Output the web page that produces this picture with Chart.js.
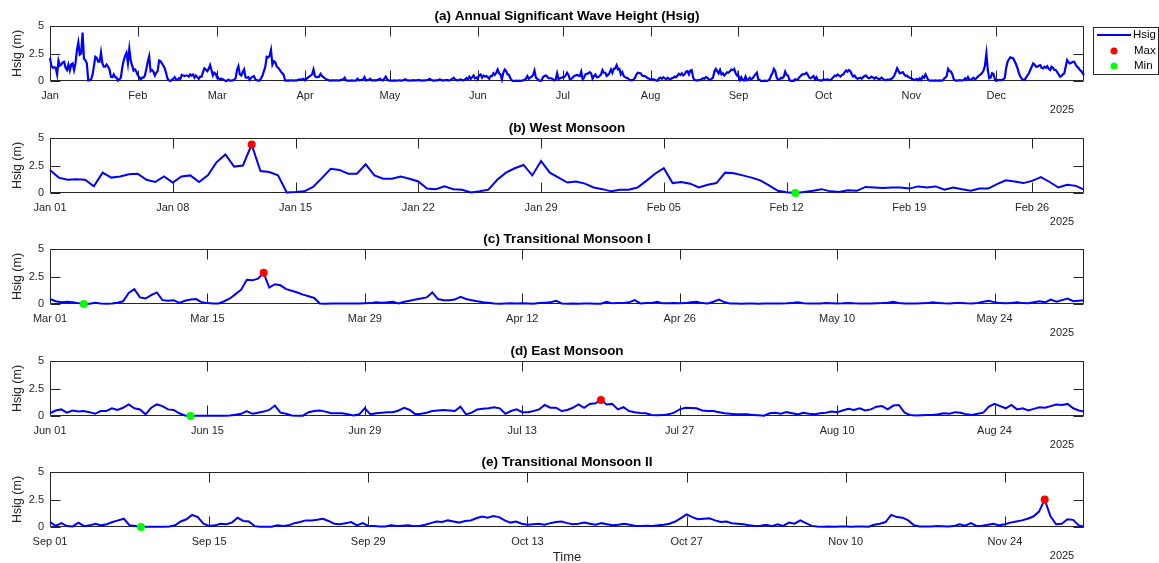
<!DOCTYPE html>
<html>
<head>
<meta charset="utf-8">
<title>Significant Wave Height 2025</title>
<script src="https://cdn.jsdelivr.net/npm/chart.js@4.4.1/dist/chart.umd.min.js"></script>
<style>
  html, body { margin: 0; padding: 0; background: #ffffff; overflow: hidden; }
  #fig { position: relative; width: 1159px; height: 563px; }
  #fig canvas { position: absolute; left: 0; }
</style>
</head>
<body>
<div id="fig"></div>
<script>
// Hsig (m), one reading every 12 h from 00:00 of the first day of each season;
// the final reading of each list is 23:00 of the season's last day.
const westMonsoon = [
  2.1, 1.4, 1.2, 1.25, 1.2, 0.6, 1.85, 1.4, 1.5, 1.7,
  1.75, 1.2, 1.0, 1.5, 0.95, 1.5, 1.6, 1.0, 1.6, 2.8,
  3.5, 2.4, 2.5, 4.4, 2.0, 1.9, 1.6, 0.05, 0.08, 0.15,
  0.55, 1.35, 2.2, 2.1, 1.75, 1.75, 2.6, 1.6, 1.3, 1.3,
  1.5, 1.3, 1.05, 0.4, 0.35, 0.6, 0.35, 0.3, 0.05, 0.15,
  0.3, 1.2, 1.85, 2.25, 2.55, 1.6, 2.9, 1.85, 1.4, 0.95,
  1.05, 0.85, 0.5, 0.35, 0.15, 0.3, 0.3, 0.5, 1.1, 1.75,
  2.25, 0.9, 1.0, 0.85, 0.5, 0.75, 0.9, 1.85, 1.8, 1.6,
  1.4, 1.15, 0.7, 0.2, 0.06, 0.0, 0.1, 0.2, 0.35, 0.15,
  0.1, 0.25, 0.2, 0.55, 0.5, 0.45, 0.5, 0.5, 0.4, 0.6,
  0.5, 0.6, 0.3, 0.5, 0.35, 0.2, 0.4, 0.4, 0.8, 1.15,
  1.05, 0.9, 1.1, 1.45, 1.0, 0.5, 0.75, 0.65, 0.3
];
const transitionalMonsoonI = [
  0.45, 0.25, 0.15, 0.2, 0.15, 0.08, 0.0, 0.03, 0.12, 0.04,
  0.03, 0.05, 0.12, 0.25, 1.0, 1.35, 0.6, 0.5, 0.8, 1.05,
  0.35, 0.3, 0.35, 0.1, 0.3, 0.4, 0.45, 0.15, 0.08, 0.04,
  0.05, 0.25, 0.5, 0.9, 1.3, 2.2, 2.15, 2.3, 2.83, 1.5,
  1.8, 1.7, 1.35, 1.2, 1.05, 0.85, 0.7, 0.55, 0.05, 0.03,
  0.05, 0.04, 0.05, 0.05, 0.04, 0.05, 0.06, 0.08, 0.15, 0.12,
  0.15, 0.2, 0.06, 0.2, 0.3, 0.4, 0.5, 0.6, 1.05, 0.45,
  0.35, 0.35, 0.4, 0.65, 0.45, 0.35, 0.25, 0.15, 0.12, 0.05,
  0.03, 0.05, 0.06, 0.05, 0.06, 0.05, 0.03, 0.08, 0.12, 0.15,
  0.3, 0.05, 0.03, 0.04, 0.03, 0.05, 0.04, 0.03, 0.03, 0.2,
  0.06, 0.08, 0.1, 0.15, 0.35, 0.05, 0.08, 0.1, 0.2, 0.06,
  0.06, 0.08, 0.06, 0.08, 0.15, 0.2, 0.08, 0.05, 0.2, 0.4,
  0.15, 0.05, 0.04, 0.03, 0.04, 0.05, 0.03, 0.04, 0.05, 0.05,
  0.04, 0.06, 0.1, 0.15, 0.06, 0.05, 0.04, 0.05, 0.08, 0.06,
  0.05, 0.06, 0.1, 0.06, 0.05, 0.04, 0.05, 0.06, 0.08, 0.12,
  0.2, 0.1, 0.05, 0.04, 0.05, 0.06, 0.08, 0.15, 0.1, 0.06,
  0.05, 0.08, 0.1, 0.06, 0.05, 0.1, 0.2, 0.3, 0.15, 0.08,
  0.06, 0.1, 0.15, 0.08, 0.06, 0.15, 0.25, 0.15, 0.4, 0.2,
  0.35, 0.5, 0.25, 0.3, 0.35
];
const eastMonsoon = [
  0.25, 0.5, 0.6, 0.3, 0.5, 0.4, 0.45, 0.35, 0.2, 0.45,
  0.45, 0.7, 0.55, 0.75, 1.05, 0.7, 0.6, 0.15, 0.75, 1.05,
  0.9, 0.6, 0.55, 0.25, 0.05, 0.0, 0.02, 0.03, 0.02, 0.03,
  0.02, 0.03, 0.05, 0.12, 0.2, 0.45, 0.2, 0.3, 0.4, 0.55,
  0.95, 0.3, 0.2, 0.05, 0.03, 0.03, 0.35, 0.45, 0.5, 0.4,
  0.25, 0.25, 0.25, 0.15, 0.05, 0.15, 0.7, 0.15, 0.25, 0.3,
  0.35, 0.35, 0.5, 0.75, 0.55, 0.15, 0.2, 0.3, 0.45, 0.5,
  0.55, 0.5, 0.45, 0.85, 0.15, 0.3, 0.6, 0.65, 0.7, 0.8,
  0.7, 0.2, 0.45, 0.6, 0.35, 0.35, 0.45, 0.6, 1.0, 0.75,
  0.75, 0.45, 0.55, 0.75, 1.05, 0.75, 1.1, 1.15, 1.45, 1.05,
  1.1, 0.6, 0.8, 0.45, 0.35, 0.28, 0.25, 0.1, 0.06, 0.08,
  0.15, 0.3, 0.6, 0.75, 0.72, 0.7, 0.5, 0.45, 0.45, 0.35,
  0.25, 0.2, 0.15, 0.15, 0.15, 0.1, 0.06, 0.03, 0.25, 0.3,
  0.2, 0.35, 0.25, 0.15, 0.3, 0.2, 0.15, 0.25, 0.3, 0.4,
  0.35, 0.5, 0.65, 0.55, 0.7, 0.5, 0.6, 0.85, 0.9, 0.6,
  0.95, 1.0, 0.3, 0.1, 0.05, 0.06, 0.08, 0.1, 0.15, 0.25,
  0.2, 0.35, 0.3, 0.15, 0.1, 0.2, 0.3, 0.85, 1.1, 0.9,
  0.7, 1.0, 0.6, 0.7, 0.5, 0.65, 0.8, 0.75, 0.9, 1.05,
  1.0, 1.1, 0.7, 0.5, 0.4
];
const transitionalMonsoonII = [
  0.45, 0.1, 0.35, 0.08, 0.05, 0.4, 0.08, 0.15, 0.3, 0.15,
  0.25, 0.45, 0.6, 0.75, 0.15, 0.1, 0.0, 0.02, 0.02, 0.03,
  0.02, 0.05, 0.15, 0.5, 0.7, 1.1, 0.9, 0.3, 0.1, 0.15,
  0.3, 0.25, 0.4, 0.85, 0.55, 0.5, 0.08, 0.02, 0.03, 0.02,
  0.15, 0.1, 0.15, 0.35, 0.45, 0.6, 0.6, 0.65, 0.75, 0.55,
  0.3, 0.25, 0.35, 0.45, 0.15, 0.35, 0.1, 0.08, 0.05, 0.04,
  0.15, 0.1, 0.12, 0.15, 0.08, 0.1, 0.2, 0.35, 0.5, 0.45,
  0.6, 0.5, 0.4, 0.55, 0.6, 0.8, 0.95, 0.85, 1.0, 0.9,
  0.6, 0.4, 0.5, 0.3, 0.2, 0.25, 0.3, 0.2, 0.35, 0.45,
  0.5, 0.35, 0.25, 0.3, 0.4, 0.3, 0.2, 0.35, 0.25, 0.15,
  0.2, 0.3, 0.2, 0.1, 0.08, 0.12, 0.1, 0.15, 0.2, 0.3,
  0.5, 0.8, 1.15, 0.9, 0.7, 0.75, 0.8, 0.6, 0.45, 0.5,
  0.35, 0.3, 0.25, 0.15, 0.1, 0.12, 0.2, 0.08, 0.25, 0.1,
  0.4, 0.3, 0.6, 0.35, 0.1, 0.04, 0.03, 0.04, 0.03, 0.05,
  0.04, 0.03, 0.05, 0.04, 0.03, 0.2, 0.3, 0.45, 1.1, 0.9,
  0.85, 0.6, 0.15, 0.05, 0.04, 0.05, 0.08, 0.06, 0.05, 0.08,
  0.25, 0.12, 0.35, 0.1, 0.12, 0.2, 0.3, 0.15, 0.25, 0.4,
  0.5, 0.6, 0.75, 0.95, 1.4, 2.49, 1.0, 0.25, 0.3, 0.7,
  0.65, 0.15, 0.02
];
const decemberHsig = [
  0.05, 0.08, 0.1, 0.08, 0.1, 0.15, 0.3, 1.2, 1.75, 2.0,
  2.15, 2.1, 2.05, 1.8, 1.5, 1.15, 0.7, 0.4, 0.2, 0.1,
  0.1, 0.3, 0.5, 0.7, 1.0, 1.3, 1.6, 1.5, 1.3, 1.3,
  1.4, 1.45, 1.2, 1.15, 1.3, 1.2, 1.35, 1.1, 1.0, 1.3,
  1.2, 1.0, 1.0, 0.8, 0.6, 0.4, 0.45, 0.6, 0.7, 1.3,
  1.9, 1.7, 1.6, 1.65, 1.75, 1.75, 1.5, 1.3, 1.2, 1.0,
  0.9, 0.7, 0.55
];

// Tick positions (days from the start of each panel) and their labels
const monthTicks = [0, 31, 59, 90, 120, 151, 181, 212, 243, 273, 304, 334];
const monthLabels = ['Jan', 'Feb', 'Mar', 'Apr', 'May', 'Jun', 'Jul', 'Aug', 'Sep', 'Oct', 'Nov', 'Dec'];
const weeklyTicks = [0, 7, 14, 21, 28, 35, 42, 49, 56];
const westLabels = ['Jan 01', 'Jan 08', 'Jan 15', 'Jan 22', 'Jan 29', 'Feb 05', 'Feb 12', 'Feb 19', 'Feb 26'];
const fortnightTicks = [0, 14, 28, 42, 56, 70, 84];
const transILabels = ['Mar 01', 'Mar 15', 'Mar 29', 'Apr 12', 'Apr 26', 'May 10', 'May 24'];
const eastLabels = ['Jun 01', 'Jun 15', 'Jun 29', 'Jul 13', 'Jul 27', 'Aug 10', 'Aug 24'];
const transIILabels = ['Sep 01', 'Sep 15', 'Sep 29', 'Oct 13', 'Oct 27', 'Nov 10', 'Nov 24'];
const hsigTicks = [0, 2.5, 5];
const hsigLabels = ['0', '2.5', '5'];
const legendLabels = ['Hsig', 'Max', 'Min'];

const FONT = "'Liberation Sans', Arial, Helvetica, sans-serif";
const AXIS = '#262626';
const LINE_BLUE = '#0000ff';
const MAX_RED = '#ff0000';
const MIN_GREEN = '#00ff00';

// Convert a 12-hourly list into {x: day, y: Hsig} points
function toPoints(values, days, offset) {
  const last = days - 1 / 24;
  return values.map((v, i) => ({ x: offset + Math.min(i * 0.5, last), y: v }));
}

const annualPoints = [].concat(
  toPoints(westMonsoon, 59, 0),
  toPoints(transitionalMonsoonI, 92, 59),
  toPoints(eastMonsoon, 92, 151),
  toPoints(transitionalMonsoonII, 91, 243),
  toPoints(decemberHsig, 31, 334)
);

const panels = [
  { title: '(a) Annual Significant Wave Height (Hsig)', top: 26, days: 365,
    points: annualPoints, ticks: monthTicks, labels: monthLabels, extremes: false, legend: true },
  { title: '(b) West Monsoon', top: 138, days: 59,
    points: toPoints(westMonsoon, 59, 0), ticks: weeklyTicks, labels: westLabels, extremes: true },
  { title: '(c) Transitional Monsoon I', top: 249, days: 92,
    points: toPoints(transitionalMonsoonI, 92, 0), ticks: fortnightTicks, labels: transILabels, extremes: true },
  { title: '(d) East Monsoon', top: 361, days: 92,
    points: toPoints(eastMonsoon, 92, 0), ticks: fortnightTicks, labels: eastLabels, extremes: true },
  { title: '(e) Transitional Monsoon II', top: 472, days: 91,
    points: toPoints(transitionalMonsoonII, 91, 0), ticks: fortnightTicks, labels: transIILabels, extremes: true, xlabel: 'Time' }
];

const PLOT_TOP = 26;
const PLOT_H = 55;
const TICK_LEN = 10;

// Box, inward tick marks, titles and the legend, MATLAB-axes style
const framePlugin = {
  id: 'frame',
  beforeDatasetsDraw(chart, args, o) {
    const { ctx, chartArea: { left, right, top, bottom }, scales: { x, y } } = chart;
    ctx.save();
    ctx.strokeStyle = AXIS;
    ctx.lineWidth = 1;
    ctx.beginPath();
    const L = left + 0.5, R = right - 0.5, T = top + 0.5, B = bottom - 0.5;
    ctx.moveTo(L, T); ctx.lineTo(R, T); ctx.lineTo(R, B); ctx.lineTo(L, B); ctx.closePath();
    o.ticks.forEach(v => {
      const px = Math.round(x.getPixelForValue(v)) + 0.5;
      ctx.moveTo(px, T); ctx.lineTo(px, T + TICK_LEN);
      ctx.moveTo(px, B); ctx.lineTo(px, B - TICK_LEN);
    });
    hsigTicks.forEach(v => {
      const py = Math.round(y.getPixelForValue(v)) + 0.5;
      ctx.moveTo(L, py); ctx.lineTo(L + TICK_LEN, py);
      ctx.moveTo(R, py); ctx.lineTo(R - TICK_LEN, py);
    });
    ctx.stroke();
    ctx.restore();
  },
  afterDraw(chart, args, o) {
    const { ctx, chartArea: { left, right, top, bottom } } = chart;
    ctx.save();
    ctx.fillStyle = '#000000';
    ctx.font = `bold 13.5px ${FONT}`;
    ctx.textAlign = 'center';
    ctx.textBaseline = 'alphabetic';
    ctx.fillText(o.title, (left + right) / 2, top - 6);

    ctx.fillStyle = AXIS;
    ctx.font = `11px ${FONT}`;
    ctx.textBaseline = 'middle';
    ctx.fillText('2025', 1062, bottom + 29);

    if (o.xlabel) {
      ctx.font = `13px ${FONT}`;
      ctx.fillText(o.xlabel, (left + right) / 2, bottom + 30);
    }

    if (o.legend) {
      const bx = 1093.5, by = 27.5, bw = 65, bh = 47;
      ctx.fillStyle = '#ffffff';
      ctx.fillRect(bx, by, bw, bh);
      ctx.strokeStyle = AXIS;
      ctx.lineWidth = 1;
      ctx.strokeRect(bx, by, bw, bh);
      ctx.strokeStyle = LINE_BLUE;
      ctx.lineWidth = 2;
      ctx.beginPath(); ctx.moveTo(1097, 35); ctx.lineTo(1131, 35); ctx.stroke();
      ctx.fillStyle = MAX_RED;
      ctx.beginPath(); ctx.arc(1114, 51, 3.5, 0, Math.PI * 2); ctx.fill();
      ctx.fillStyle = MIN_GREEN;
      ctx.beginPath(); ctx.arc(1114, 66, 3.5, 0, Math.PI * 2); ctx.fill();
      ctx.fillStyle = '#000000';
      ctx.font = `11.5px ${FONT}`;
      ctx.textAlign = 'left';
      ctx.fillText(legendLabels[0], 1133, 35);
      ctx.fillText(legendLabels[1], 1134, 51);
      ctx.fillText(legendLabels[2], 1134, 66);
    }
    ctx.restore();
  }
};

const fig = document.getElementById('fig');

panels.forEach((p, k) => {
  const H = k === panels.length - 1 ? 117 : 120;
  const canvas = document.createElement('canvas');
  canvas.width = 1159;
  canvas.height = H;
  canvas.style.width = '1159px';
  canvas.style.height = H + 'px';
  canvas.style.top = (p.top - PLOT_TOP) + 'px';
  fig.appendChild(canvas);

  const datasets = [];
  if (p.extremes) {
    let iMax = 0, iMin = 0;
    p.points.forEach((q, i) => {
      if (q.y > p.points[iMax].y) iMax = i;
      if (q.y < p.points[iMin].y) iMin = i;
    });
    datasets.push({ label: 'Max', data: [p.points[iMax]], showLine: false, clip: false,
      pointRadius: 4, pointBackgroundColor: MAX_RED, pointBorderWidth: 0 });
    datasets.push({ label: 'Min', data: [p.points[iMin]], showLine: false, clip: false,
      pointRadius: 4, pointBackgroundColor: MIN_GREEN, pointBorderWidth: 0 });
  }
  datasets.push({ label: 'Hsig', data: p.points, borderColor: LINE_BLUE,
    borderWidth: k === 0 ? 2.2 : 2, pointRadius: 0, tension: 0, clip: 4 });

  new Chart(canvas, {
    type: 'line',
    data: { datasets },
    plugins: [framePlugin],
    options: {
      responsive: false,
      animation: false,
      devicePixelRatio: 1,
      events: [],
      parsing: false,
      layout: { padding: { top: PLOT_TOP, left: 0, right: 75, bottom: 0 } },
      plugins: {
        legend: { display: false },
        tooltip: { enabled: false },
        title: { display: false },
        frame: { title: p.title, ticks: p.ticks, legend: !!p.legend, xlabel: p.xlabel || '' }
      },
      scales: {
        x: {
          type: 'linear', min: 0, max: p.days - 1 / 24, offset: false,
          grid: { display: false, drawTicks: false },
          border: { display: false },
          afterBuildTicks: s => { s.ticks = p.ticks.map(v => ({ value: v })); },
          afterFit: s => { s.height = H - PLOT_TOP - PLOT_H; },
          ticks: {
            autoSkip: false, maxRotation: 0, minRotation: 0, padding: 8,
            color: AXIS, font: { family: FONT, size: 11 },
            callback: (v, i) => p.labels[i]
          }
        },
        y: {
          type: 'linear', min: 0, max: 5,
          grid: { display: false, drawTicks: false },
          border: { display: false },
          afterBuildTicks: s => { s.ticks = hsigTicks.map(v => ({ value: v })); },
          afterFit: s => { s.width = 50; },
          ticks: {
            padding: 6, color: AXIS, font: { family: FONT, size: 11 },
            callback: (v, i) => hsigLabels[i]
          },
          title: {
            display: true, text: 'Hsig (m)', color: AXIS,
            font: { family: FONT, size: 12.5 }, padding: { top: 10, bottom: 0 }
          }
        }
      }
    }
  });
});
</script>
</body>
</html>
